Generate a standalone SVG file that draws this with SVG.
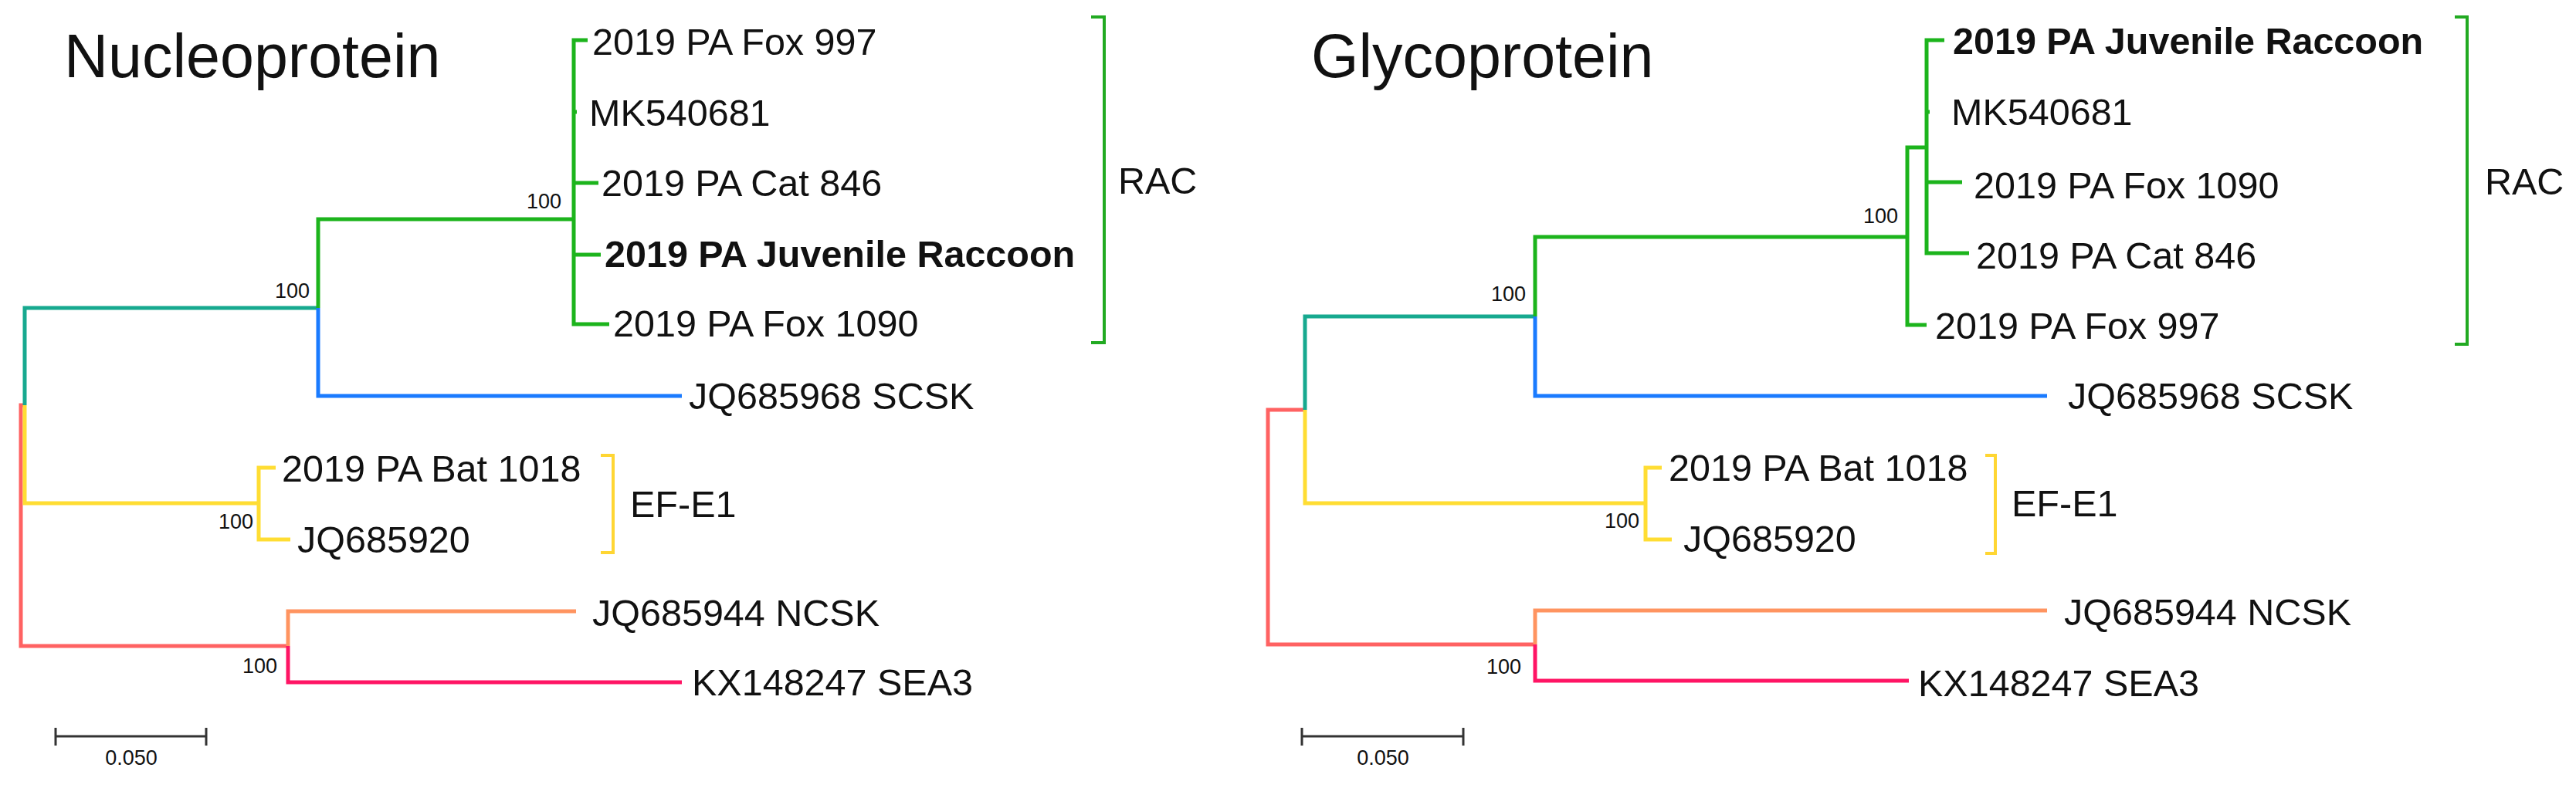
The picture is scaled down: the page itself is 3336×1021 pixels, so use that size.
<svg xmlns="http://www.w3.org/2000/svg" width="3336" height="1021" viewBox="0 0 3336 1021">
<style>
text{font-family:"Liberation Sans",Arial,sans-serif;fill:#111}
.title{font-size:79px}
.lab{font-size:48.5px}
.b{font-weight:bold}
.bs{font-size:27px;text-anchor:end}
.sc{font-size:27px;text-anchor:middle}
.e{fill:none;stroke-width:5;stroke-linejoin:miter;stroke-linecap:butt}
.br{fill:none;stroke-width:4}
.teal{stroke:#17A98F}.green{stroke:#1CB41C}.blue{stroke:#1A7BFF}.yel{stroke:#FFDD33}.red{stroke:#FF6262}.orn{stroke:#FF9460}.pnk{stroke:#FF1464}
.gbr{stroke:#22AA22}.ybr{stroke:#FFD633}
.bar{fill:none;stroke:#333;stroke-width:3}
</style>
<rect width="3336" height="1021" fill="#fff"/>

<!-- ===== Nucleoprotein ===== -->
<g id="np-title"><text class="title" x="83" y="100">Nucleoprotein</text></g>
<g id="np-connectors">
<path class="e red" d="M32,525 H27 V837 H373"/>
<path class="e teal" d="M32,525 V399 H412"/>
<path class="e yel" d="M32,525 V652 H335"/>
<path class="e yel" d="M357,606 H335 V699 H376"/>
<path class="e green" d="M412,399 V284 H743"/>
<path class="e green" d="M761,52 H743 V420 H789"/>
<path class="e green" d="M743,145 H747 M743,237 H775 M743,330 H778"/>
<path class="e blue" d="M412,399 V513 H883"/>
<path class="e orn" d="M373,837 V792 H746"/>
<path class="e pnk" d="M373,837 V884 H883"/>
</g>
<g id="np-support">
<text class="bs" x="727" y="270">100</text>
<text class="bs" x="401" y="386">100</text>
<text class="bs" x="328" y="685">100</text>
<text class="bs" x="359" y="872">100</text>
</g>
<g id="np-fox997"><text class="lab" x="767" y="71">2019 PA Fox 997</text></g>
<g id="np-mk540681"><text class="lab" x="763" y="163">MK540681</text></g>
<g id="np-cat846"><text class="lab" x="779" y="254">2019 PA Cat 846</text></g>
<g id="np-juvenile"><text class="lab b" x="783" y="346">2019 PA Juvenile Raccoon</text></g>
<g id="np-fox1090"><text class="lab" x="794" y="436">2019 PA Fox 1090</text></g>
<g id="np-scsk"><text class="lab" x="892" y="530">JQ685968 SCSK</text></g>
<g id="np-bat1018"><text class="lab" x="365" y="624">2019 PA Bat 1018</text></g>
<g id="np-jq685920"><text class="lab" x="385" y="716">JQ685920</text></g>
<g id="np-ncsk"><text class="lab" x="767" y="811">JQ685944 NCSK</text></g>
<g id="np-sea3"><text class="lab" x="896" y="901">KX148247 SEA3</text></g>
<g id="np-rac">
<path class="br gbr" d="M1413,22 H1430 V444 H1413"/>
<text class="lab" x="1448" y="251">RAC</text>
</g>
<g id="np-efe1">
<path class="br ybr" d="M778,590 H794 V716 H778"/>
<text class="lab" x="816" y="670">EF-E1</text>
</g>
<g id="np-scale">
<path class="bar" d="M72,954 H267 M72,943 V966 M267,943 V966"/>
<text class="sc" x="170" y="991">0.050</text>
</g>

<!-- ===== Glycoprotein ===== -->
<g id="gp-title"><text class="title" x="1698" y="100">Glycoprotein</text></g>
<g id="gp-connectors">
<path class="e red" d="M1690,531 H1642 V835 H1988"/>
<path class="e teal" d="M1690,531 V410 H1988"/>
<path class="e yel" d="M1690,531 V652 H2131"/>
<path class="e yel" d="M2152,606 H2131 V699 H2165"/>
<path class="e green" d="M1988,410 V307 H2470"/>
<path class="e green" d="M2495,191 H2470 V421 H2495"/>
<path class="e green" d="M2518,52 H2495 V328 H2550"/>
<path class="e green" d="M2495,145 H2499 M2495,236 H2541"/>
<path class="e blue" d="M1988,410 V513 H2651"/>
<path class="e orn" d="M1988,835 V791 H2651"/>
<path class="e pnk" d="M1988,835 V882 H2472"/>
</g>
<g id="gp-support">
<text class="bs" x="2458" y="289">100</text>
<text class="bs" x="1976" y="390">100</text>
<text class="bs" x="2123" y="684">100</text>
<text class="bs" x="1970" y="873">100</text>
</g>
<g id="gp-juvenile"><text class="lab b" x="2529" y="70">2019 PA Juvenile Raccoon</text></g>
<g id="gp-mk540681"><text class="lab" x="2527" y="162">MK540681</text></g>
<g id="gp-fox1090"><text class="lab" x="2556" y="257">2019 PA Fox 1090</text></g>
<g id="gp-cat846"><text class="lab" x="2559" y="348">2019 PA Cat 846</text></g>
<g id="gp-fox997"><text class="lab" x="2506" y="439">2019 PA Fox 997</text></g>
<g id="gp-scsk"><text class="lab" x="2678" y="530">JQ685968 SCSK</text></g>
<g id="gp-bat1018"><text class="lab" x="2161" y="623">2019 PA Bat 1018</text></g>
<g id="gp-jq685920"><text class="lab" x="2180" y="715">JQ685920</text></g>
<g id="gp-ncsk"><text class="lab" x="2673" y="810">JQ685944 NCSK</text></g>
<g id="gp-sea3"><text class="lab" x="2484" y="902">KX148247 SEA3</text></g>
<g id="gp-rac">
<path class="br gbr" d="M3179,22 H3195 V446 H3179"/>
<text class="lab" x="3218" y="252">RAC</text>
</g>
<g id="gp-efe1">
<path class="br ybr" d="M2571,590 H2584 V717 H2571"/>
<text class="lab" x="2605" y="669">EF-E1</text>
</g>
<g id="gp-scale">
<path class="bar" d="M1686,954 H1895 M1686,943 V966 M1895,943 V966"/>
<text class="sc" x="1791" y="991">0.050</text>
</g>
</svg>
